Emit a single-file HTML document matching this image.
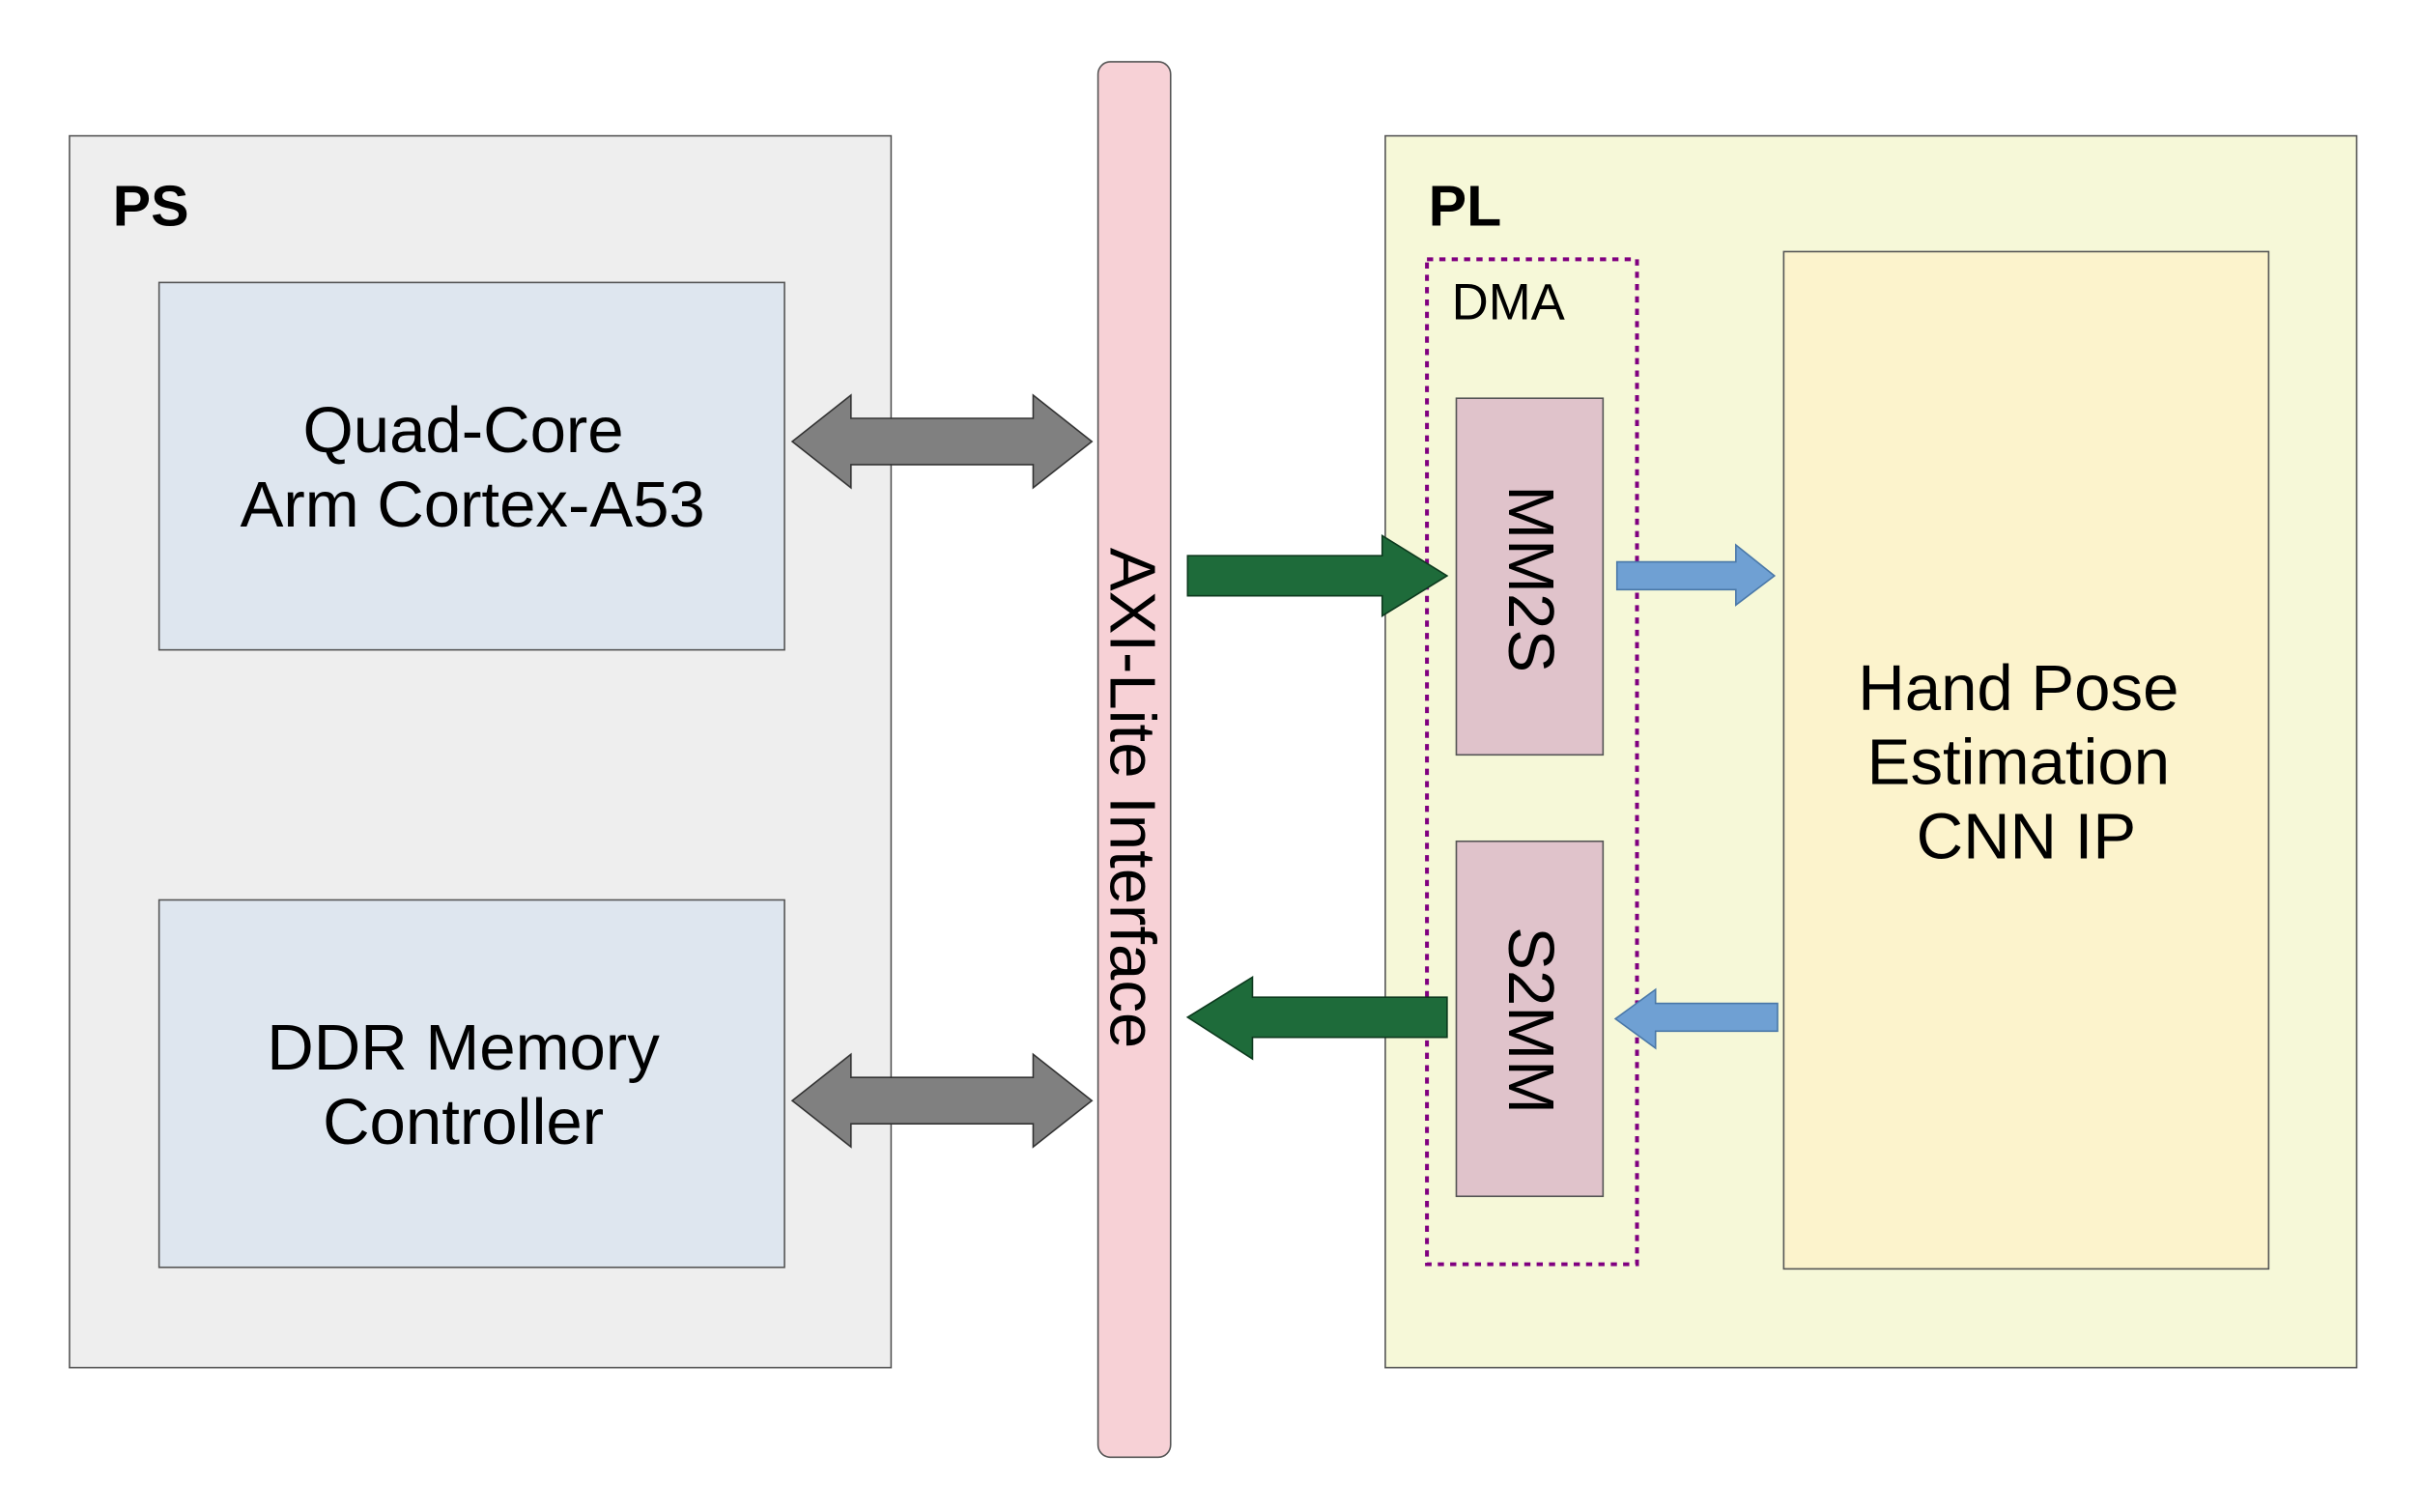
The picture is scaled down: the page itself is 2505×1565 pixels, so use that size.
<!DOCTYPE html>
<html><head><meta charset="utf-8"><style>
html,body{margin:0;padding:0;background:#fff;}
svg{display:block;}
text{font-family:"Liberation Sans",sans-serif;fill:#000;}
</style></head><body>
<svg width="2505" height="1565" viewBox="0 0 1567 979.5" preserveAspectRatio="none" xmlns="http://www.w3.org/2000/svg">
<rect width="1567" height="980" fill="#fff"/>
<!-- PS -->
<rect x="45" y="88" width="532" height="798" fill="#eeeeee" stroke="#555" stroke-width="1"/>
<text x="73" y="146" font-size="37" font-weight="bold">PS</text>
<rect x="103" y="183" width="405" height="238" fill="#dee6ef" stroke="#555" stroke-width="1"/>
<text x="300" y="293" font-size="42" text-anchor="middle">Quad-Core</text>
<text x="306" y="341" font-size="42" text-anchor="middle">Arm Cortex-A53</text>
<rect x="103" y="583" width="405" height="238" fill="#dee6ef" stroke="#555" stroke-width="1"/>
<text x="300" y="693" font-size="42" text-anchor="middle">DDR Memory</text>
<text x="300" y="741" font-size="42" text-anchor="middle">Controller</text>
<!-- gray double arrows -->
<polygon points="513,286 551,256 551,271 669,271 669,256 707,286 669,316 669,301 551,301 551,316" fill="#808080" stroke="#333" stroke-width="1"/>
<polygon points="513,713 551,683 551,698 669,698 669,683 707,713 669,743 669,728 551,728 551,743" fill="#808080" stroke="#333" stroke-width="1"/>
<!-- AXI bar -->
<rect x="711" y="40" width="47" height="904" rx="8" fill="#f7d1d6" stroke="#555" stroke-width="1"/>
<text transform="translate(719,517) rotate(90)" font-size="42" text-anchor="middle">AXI-Lite Interface</text>
<!-- PL -->
<rect x="897" y="88" width="629" height="798" fill="#f6f8d8" stroke="#555" stroke-width="1"/>
<text x="925" y="146" font-size="37" font-weight="bold">PL</text>
<rect x="924" y="168" width="136" height="651" fill="none" stroke="#800080" stroke-width="2.5" stroke-dasharray="4,4"/>
<text x="940" y="207" font-size="33">DMA</text>
<rect x="943" y="258" width="95" height="231" fill="#e0c3cb" stroke="#555" stroke-width="1"/>
<text transform="translate(977,375) rotate(90)" font-size="42" text-anchor="middle">MM2S</text>
<rect x="943" y="545" width="95" height="230" fill="#e0c3cb" stroke="#555" stroke-width="1"/>
<text transform="translate(977,661) rotate(90)" font-size="42" text-anchor="middle">S2MM</text>
<rect x="1155" y="163" width="314" height="659" fill="#fcf3cc" stroke="#555" stroke-width="1"/>
<text x="1307" y="460" font-size="42" text-anchor="middle">Hand Pose</text>
<text x="1307" y="508" font-size="42" text-anchor="middle">Estimation</text>
<text x="1312" y="556" font-size="42" text-anchor="middle">CNN IP</text>
<!-- green arrows -->
<polygon points="769,360 895,360 895,347 937,373 895,399 895,386 769,386" fill="#1e6b3a" stroke="#0d3a1e" stroke-width="1"/>
<polygon points="937,646 811,646 811,633 769,659 811,686 811,672 937,672" fill="#1e6b3a" stroke="#0d3a1e" stroke-width="1"/>
<!-- blue arrows -->
<polygon points="1047,364 1124,364 1124,353 1149,373 1124,392 1124,382 1047,382" fill="#6fa0d3" stroke="#4a78a8" stroke-width="1"/>
<polygon points="1151,650 1072,650 1072,641 1046,660 1072,679 1072,668 1151,668" fill="#6fa0d3" stroke="#4a78a8" stroke-width="1"/>
</svg>
</body></html>
